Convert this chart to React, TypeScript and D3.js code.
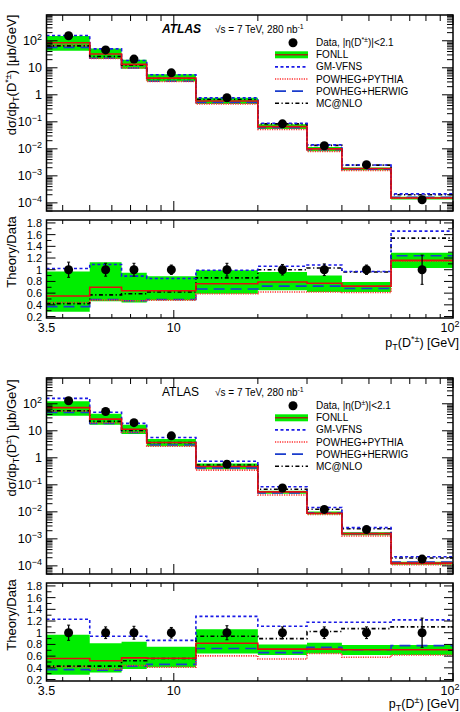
import React from "react";
import * as d3 from "d3";

// pT bins [GeV] and data point positions
const binEdges = [3.5, 5, 6.5, 8, 12, 20, 30, 40, 60, 100];
const binCentres = [4.2, 5.7, 7.2, 9.8, 15.5, 24.5, 34.6, 49, 77.5];

// D*± : measured cross-section [ub/GeV], relative error, theory/data ratios
const dstarData = [154, 46, 21, 6.5, 0.78, 0.084, 0.013, 0.0026, 0.00013];
const dstarErr = [0.13, 0.11, 0.11, 0.08, 0.11, 0.09, 0.1, 0.08, 0.25];
const dstarFonllLo = [0.28, 0.46, 0.44, 0.48, 0.59, 0.65, 0.62, 0.62, 1.03];
const dstarFonllHi = [0.97, 1.13, 0.95, 0.89, 0.99, 0.96, 0.9, 0.79, 1.29];
const dstarFonll = [0.55, 0.7, 0.64, 0.64, 0.76, 0.79, 0.77, 0.72, 1.16];
const dstarGmvfns = [1.02, 1.09, 0.89, 0.85, 0.99, 1.06, 1.08, 0.97, 1.66];
const dstarPythia = [0.44, 0.48, 0.47, 0.48, 0.59, 0.62, 0.62, 0.61, 1.15];
const dstarHerwig = [0.37, 0.49, 0.47, 0.49, 0.67, 0.72, 0.72, 0.68, 1.24];
const dstarMcnlo = [0.42, 0.57, 0.59, 0.62, 0.86, 1.0, 1.03, 0.96, 1.54];

// D± : same layout
const dplusData = [129, 52, 20, 6.5, 0.58, 0.076, 0.0123, 0.0022, 0.000178];
const dplusErr = [0.13, 0.1, 0.11, 0.09, 0.12, 0.1, 0.1, 0.1, 0.25];
const dplusFonllLo = [0.28, 0.32, 0.38, 0.41, 0.645, 0.62, 0.645, 0.62, 0.62];
const dplusFonllHi = [0.965, 0.82, 0.845, 0.76, 1.06, 0.8, 0.83, 0.79, 0.79];
const dplusFonll = [0.56, 0.52, 0.57, 0.565, 0.82, 0.72, 0.72, 0.71, 0.71];
const dplusGmvfns = [1.23, 0.94, 0.94, 0.87, 1.28, 1.11, 1.18, 1.18, 1.22];
const dplusPythia = [0.42, 0.38, 0.44, 0.41, 0.605, 0.55, 0.645, 0.58, 0.62];
const dplusHerwig = [0.37, 0.36, 0.43, 0.46, 0.73, 0.66, 0.75, 0.71, 0.78];
const dplusMcnlo = [0.43, 0.43, 0.52, 0.56, 0.94, 0.9, 1.02, 1.07, 1.1];

// axis labels
const mainTickExps = [2, 1, 0, -1, -2, -3, -4];
const ratioTicks = [0.2, 0.4, 0.6, 0.8, 1, 1.2, 1.4, 1.6, 1.8];
const ratioTickLabels = ["0.2", "0.4", "0.6", "0.8", "1", "1.2", "1.4", "1.6", "1.8"];
const legendNames = ["FONLL", "GM-VFNS", "POWHEG+PYTHIA", "POWHEG+HERWIG", "MC@NLO"];

const FONT = "'Liberation Sans', Arial, Helvetica, sans-serif";
const GREEN = "#00ee00";

const styles = {
  fonll: { color: "#e01010", dash: "", width: 1.6 },
  gm: { color: "#1a1ae6", dash: "3,2.5", width: 1.6 },
  py: { color: "#ff3030", dash: "1.2,1.2", width: 1.6 },
  hw: { color: "#1a3ccc", dash: "11,6", width: 1.6 },
  mc: { color: "#000000", dash: "4,2.5,1.2,2.5", width: 1.6 },
};

const X0 = 46.5;
const X1 = 453;
const x = d3.scaleLog().domain([3.5, 100]).range([X0, X1]);

type Pt = [number, number];

function steps(vals: number[]): Pt[] {
  const pts: Pt[] = vals.map((v, i) => [binEdges[i], v]);
  pts.push([binEdges[vals.length], vals[vals.length - 1]]);
  return pts;
}

interface PanelProps {
  off: number;
  data: number[];
  err: number[];
  lo: number[];
  hi: number[];
  fonll: number[];
  gm: number[];
  py: number[];
  hw: number[];
  mc: number[];
  sup: string;
  atlasItalic: boolean;
}

const Panel: React.FC<PanelProps> = (p) => {
  const { off } = p;
  const mTop = 15 + off;
  const mBot = 211 + off;
  const rTop = 220 + off;
  const rBot = 318 + off;
  const yMain = d3.scaleLog().domain([5e-5, 900]).range([mBot, mTop]);
  const yRatio = d3.scaleLinear().domain([0.175, 1.85]).range([rBot, rTop]);

  const mkLine = (y: (v: number) => number) =>
    d3
      .line<Pt>()
      .x((d) => x(d[0]))
      .y((d) => y(d[1]))
      .curve(d3.curveStepAfter);
  const mkArea = (y: (v: number) => number) =>
    d3
      .area<[number, number, number]>()
      .x((d) => x(d[0]))
      .y0((d) => y(d[1]))
      .y1((d) => y(d[2]))
      .curve(d3.curveStepAfter);

  const bandPts = (lo: number[], hi: number[]) => {
    const pts: [number, number, number][] = lo.map((l, i) => [binEdges[i], l, hi[i]]);
    pts.push([binEdges[lo.length], lo[lo.length - 1], hi[hi.length - 1]]);
    return pts;
  };

  // theory cross-section = ratio * measured value
  const scaled = (r: number[]) => r.map((v, i) => v * p.data[i]);

  const series = [
    { key: "hw", vals: p.hw },
    { key: "py", vals: p.py },
    { key: "mc", vals: p.mc },
    { key: "gm", vals: p.gm },
    { key: "fonll", vals: p.fonll },
  ] as const;

  const xt = x.ticks();
  const ymt = yMain.ticks();
  const yrt = yRatio.ticks(17).filter((v) => v >= 0.2 - 1e-9 && v <= 1.8 + 1e-9);

  const mainLine = mkLine(yMain);
  const ratioLine = mkLine(yRatio);

  const isDecade = (v: number) => Math.abs(Math.log10(v) - Math.round(Math.log10(v))) < 1e-6;

  const renderXTicks = (top: number, bot: number, big: number, small: number) =>
    xt.map((v, i) => {
      const len = isDecade(v) ? big : small;
      return (
        <g key={"xt" + top + i}>
          <line x1={x(v)} x2={x(v)} y1={bot} y2={bot - len} stroke="#000" strokeWidth={1} />
          <line x1={x(v)} x2={x(v)} y1={top} y2={top + len} stroke="#000" strokeWidth={1} />
        </g>
      );
    });

  const legendRow = (i: number) => 42.7 + off + 12.1 * i;
  const legendStyleKeys = ["fonll", "gm", "py", "hw", "mc"] as const;

  const clipMain = "clipm" + off;
  const clipRatio = "clipr" + off;
  const xLabY = 332 + off;
  const xTitleY = Math.min(347 + off, 708);

  return (
    <g fontFamily={FONT}>
      <defs>
        <clipPath id={clipMain}>
          <rect x={X0} y={mTop} width={X1 - X0} height={mBot - mTop} />
        </clipPath>
        <clipPath id={clipRatio}>
          <rect x={X0} y={rTop} width={X1 - X0} height={rBot - rTop} />
        </clipPath>
      </defs>

      {/* ---------- main panel ---------- */}
      <g clipPath={`url(#${clipMain})`}>
        <path d={mkArea(yMain)(bandPts(scaled(p.lo), scaled(p.hi))) || ""} fill={GREEN} />
        {series.map((s) => {
          const st = styles[s.key];
          return (
            <path
              key={s.key}
              d={mainLine(steps(scaled(s.vals as number[]))) || ""}
              fill="none"
              stroke={st.color}
              strokeWidth={st.width}
              strokeDasharray={st.dash}
            />
          );
        })}
        {p.data.map((d, i) => (
          <g key={"md" + i}>
            <line
              x1={x(binCentres[i])}
              x2={x(binCentres[i])}
              y1={yMain(d * (1 + p.err[i]))}
              y2={yMain(d * (1 - p.err[i]))}
              stroke="#000"
              strokeWidth={1.2}
            />
            <circle cx={x(binCentres[i])} cy={yMain(d)} r={4.5} fill="#000" />
          </g>
        ))}
      </g>

      {/* main y ticks */}
      {ymt.map((v, i) => {
        const len = isDecade(v) ? 11 : 6;
        return (
          <g key={"ym" + i}>
            <line x1={X0} x2={X0 + len} y1={yMain(v)} y2={yMain(v)} stroke="#000" strokeWidth={1} />
            <line x1={X1} x2={X1 - len} y1={yMain(v)} y2={yMain(v)} stroke="#000" strokeWidth={1} />
          </g>
        );
      })}
      {mainTickExps.map((e) => {
        const yy = yMain(Math.pow(10, e)) + 4.5;
        if (e === 1 || e === 0) {
          return (
            <text key={"yl" + e} x={42} y={yy} textAnchor="end" fontSize={12.5}>
              {e === 1 ? "10" : "1"}
            </text>
          );
        }
        return (
          <text key={"yl" + e} x={42} y={yy} textAnchor="end" fontSize={12.5}>
            10
            <tspan dy={-5} fontSize={9}>
              {String(e).replace("-", "\u2212")}
            </tspan>
          </text>
        );
      })}
      {renderXTicks(mTop, mBot, 10, 6)}
      <rect x={X0} y={mTop} width={X1 - X0} height={mBot - mTop} fill="none" stroke="#000" strokeWidth={1.5} />

      {/* y title main */}
      <text transform={`translate(16,${75 + off}) rotate(-90)`} textAnchor="middle" fontSize={13}>
        dσ/dp
        <tspan dy={3} fontSize={9}>
          T
        </tspan>
        <tspan dy={-3}>(D</tspan>
        <tspan dy={-5} fontSize={9}>
          {p.sup}
        </tspan>
        <tspan dy={5}>) [μb/GeV]</tspan>
      </text>

      {/* ATLAS label */}
      <text
        x={162}
        y={33 + off}
        fontSize={12}
        fontWeight={p.atlasItalic ? "bold" : "normal"}
        fontStyle={p.atlasItalic ? "italic" : "normal"}
      >
        ATLAS
      </text>
      <text x={215} y={33 + off} fontSize={10}>
        √s = 7 TeV, 280 nb
        <tspan dy={-4} fontSize={7}>
          -1
        </tspan>
      </text>

      {/* legend */}
      <circle cx={293} cy={legendRow(0)} r={4.5} fill="#000" />
      <text x={316} y={legendRow(0) + 3.5} fontSize={10}>
        Data, |η(D
        <tspan dy={-4} fontSize={7}>
          {p.sup}
        </tspan>
        <tspan dy={4}>)|&lt;2.1</tspan>
      </text>
      {legendNames.map((name, i) => {
        const yy = legendRow(i + 1);
        const st = styles[legendStyleKeys[i]];
        return (
          <g key={"lg" + i}>
            {i === 0 && <rect x={275} y={yy - 3.5} width={33} height={7} fill={GREEN} />}
            <line
              x1={275}
              x2={308}
              y1={yy}
              y2={yy}
              stroke={i === 0 ? "#9a3010" : st.color}
              strokeWidth={st.width}
              strokeDasharray={st.dash}
            />
            <text x={316} y={yy + 3.5} fontSize={10}>
              {name}
            </text>
          </g>
        );
      })}

      {/* ---------- ratio panel ---------- */}
      <g clipPath={`url(#${clipRatio})`}>
        <path d={mkArea(yRatio)(bandPts(p.lo, p.hi)) || ""} fill={GREEN} />
        {series.map((s) => {
          const st = styles[s.key];
          return (
            <path
              key={"r" + s.key}
              d={ratioLine(steps(s.vals as number[])) || ""}
              fill="none"
              stroke={st.color}
              strokeWidth={st.width}
              strokeDasharray={st.dash}
            />
          );
        })}
        {p.err.map((e, i) => (
          <g key={"rd" + i}>
            <line
              x1={x(binCentres[i])}
              x2={x(binCentres[i])}
              y1={yRatio(1 + e)}
              y2={yRatio(1 - e)}
              stroke="#000"
              strokeWidth={1.3}
            />
            <line
              x1={x(binCentres[i]) - 1.5}
              x2={x(binCentres[i]) + 1.5}
              y1={yRatio(1 + e)}
              y2={yRatio(1 + e)}
              stroke="#000"
              strokeWidth={1}
            />
            <line
              x1={x(binCentres[i]) - 1.5}
              x2={x(binCentres[i]) + 1.5}
              y1={yRatio(1 - e)}
              y2={yRatio(1 - e)}
              stroke="#000"
              strokeWidth={1}
            />
            <circle cx={x(binCentres[i])} cy={yRatio(1)} r={4.5} fill="#000" />
          </g>
        ))}
      </g>
      {yrt.map((v, i) => {
        const major = Math.abs(v * 5 - Math.round(v * 5)) < 1e-6;
        const len = major ? 9 : 5;
        return (
          <g key={"yr" + i}>
            <line x1={X0} x2={X0 + len} y1={yRatio(v)} y2={yRatio(v)} stroke="#000" strokeWidth={1} />
            <line x1={X1} x2={X1 - len} y1={yRatio(v)} y2={yRatio(v)} stroke="#000" strokeWidth={1} />
          </g>
        );
      })}
      {ratioTicks.map((v, i) => (
        <text key={"rl" + i} x={42} y={yRatio(v) + 4} textAnchor="end" fontSize={11}>
          {ratioTickLabels[i]}
        </text>
      ))}
      {renderXTicks(rTop, rBot, 8, 4)}
      <rect x={X0} y={rTop} width={X1 - X0} height={rBot - rTop} fill="none" stroke="#000" strokeWidth={1.5} />

      <text transform={`translate(16,${252 + off}) rotate(-90)`} textAnchor="middle" fontSize={13}>
        Theory/Data
      </text>

      {/* x tick labels */}
      <text x={x(3.5)} y={xLabY} textAnchor="middle" fontSize={12.5}>
        3.5
      </text>
      <text x={x(10)} y={xLabY} textAnchor="middle" fontSize={12.5}>
        10
      </text>
      <text x={x(100) - 3} y={xLabY} textAnchor="middle" fontSize={12.5}>
        10
        <tspan dy={-5} fontSize={9}>
          2
        </tspan>
      </text>

      {/* x title */}
      <text x={459} y={xTitleY} textAnchor="end" fontSize={12.5}>
        p
        <tspan dy={3} fontSize={9}>
          T
        </tspan>
        <tspan dy={-3}>(D</tspan>
        <tspan dy={-5} fontSize={9}>
          {p.sup}
        </tspan>
        <tspan dy={5}>) [GeV]</tspan>
      </text>
    </g>
  );
};

export default function App() {
  return (
    <svg
      width={460}
      height={712}
      style={{ position: "absolute", left: 0, top: 0, background: "#fff" }}
    >
      <rect width={460} height={712} fill="#fff" />
      <Panel
        off={0}
        data={dstarData}
        err={dstarErr}
        lo={dstarFonllLo}
        hi={dstarFonllHi}
        fonll={dstarFonll}
        gm={dstarGmvfns}
        py={dstarPythia}
        hw={dstarHerwig}
        mc={dstarMcnlo}
        sup="*±"
        atlasItalic={true}
      />
      <Panel
        off={363}
        data={dplusData}
        err={dplusErr}
        lo={dplusFonllLo}
        hi={dplusFonllHi}
        fonll={dplusFonll}
        gm={dplusGmvfns}
        py={dplusPythia}
        hw={dplusHerwig}
        mc={dplusMcnlo}
        sup="±"
        atlasItalic={false}
      />
    </svg>
  );
}
